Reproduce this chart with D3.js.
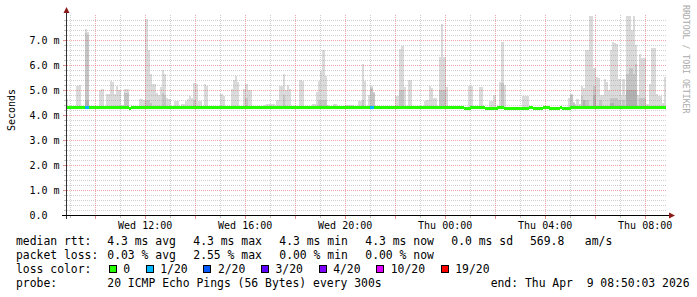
<!DOCTYPE html>
<html>
<head>
<meta charset="utf-8">
<script src="https://cdn.jsdelivr.net/npm/d3@7"></script>
<style>
  body { margin: 0; background: #fff; }
  text { font-family: "DejaVu Sans Mono", monospace; fill: #000; }
</style>
</head>
<body>
<div id="chart"></div>
<script>
// time frame: 24h of 5 minute steps, ending at the probe time
const endTime = Date.UTC(2026, 3, 9, 8, 50, 3);
const stepSec = 300;
const stepCount = 288;
const startTime = endTime - stepCount * stepSec * 1000;

const yTicks = [0, 1, 2, 3, 4, 5, 6, 7];
const yTickLabels = ['0.0', '1.0 m', '2.0 m', '3.0 m', '4.0 m', '5.0 m', '6.0 m', '7.0 m'];
const xTickLabels = ['Wed 12:00', 'Wed 16:00', 'Wed 20:00', 'Thu 00:00', 'Thu 04:00', 'Thu 08:00'];

// smoke: [step, highest ping in ms]; steps not listed stay close to the median
const smokeMax = [
  [0,4.66],[5,5.16],[6,5.2],[9,7.44],[10,7.32],[16,5.0],[17,5.04],[19,4.84],[20,4.84],
  [21,5.36],[22,5.32],[23,4.84],[24,5.16],[25,5.0],[26,4.4],[27,4.4],[28,5.04],[29,5.04],
  [31,4.38],[32,4.38],[33,4.38],[34,4.38],[35,4.66],[36,4.66],[37,4.6],[38,7.84],[39,6.6],
  [40,5.64],[41,5.24],[42,5.24],[43,4.9],[44,4.8],[45,5.12],[46,5.8],[47,5.64],[48,4.68],
  [49,4.66],[52,4.56],[53,4.56],[55,4.44],[56,4.44],[57,4.56],[58,4.66],[59,4.76],[60,4.68],
  [61,5.28],[62,5.24],[63,4.57],[64,4.57],[66,5.24],[67,5.16],[74,4.84],[75,4.76],[79,5.04],
  [80,5.4],[81,5.56],[82,5.32],[85,5.04],[86,5.24],[87,5.0],[88,5.0],[95,4.4],[96,4.44],
  [97,4.44],[98,4.44],[99,4.44],[101,4.6],[102,5.16],[103,5.16],[104,5.64],[105,5.0],
  [106,5.2],[107,5.04],[112,5.4],[113,5.36],[118,4.44],[119,4.44],[120,4.92],[121,5.36],
  [122,5.76],[123,6.6],[124,5.56],[125,4.4],[128,4.44],[129,4.44],[134,4.4],[135,4.4],
  [136,4.4],[137,4.4],[140,4.56],[141,4.56],[142,6.04],[143,5.36],[145,4.8],[146,5.16],
  [147,4.92],[152,4.36],[153,4.36],[158,4.76],[159,4.76],[160,6.64],[161,6.76],[162,5.12],
  [164,5.4],[165,5.4],[172,4.56],[173,4.6],[174,5.16],[175,5.08],[176,4.68],[177,4.68],
  [179,6.32],[180,7.64],[181,6.32],[182,5.12],[193,5.16],[194,5.16],[198,5.12],[199,5.12],
  [203,4.56],[204,4.56],[205,4.8],[208,5.32],[209,6.92],[210,5.2],[219,4.76],[220,4.76],
  [221,4.76],[241,4.68],[242,4.84],[243,4.52],[244,4.44],[245,4.64],[246,4.44],[247,5.16],
  [248,5.08],[249,6.6],[250,6.6],[251,7.98],[252,7.98],[253,5.88],[254,5.52],[255,5.48],
  [256,4.8],[257,4.8],[258,5.44],[259,5.32],[260,5.0],[261,6.6],[262,6.92],[263,6.88],
  [264,6.84],[265,5.44],[266,4.8],[267,5.44],[268,4.8],[269,7.98],[270,7.96],[271,7.4],
  [272,7.98],[273,6.8],[274,4.8],[275,6.44],[276,6.28],[277,6.28],[278,4.44],[279,4.44],
  [280,5.24],[281,6.68],[282,6.68],[283,4.84],[284,4.76],[285,4.76],[286,4.5],[287,5.52]
];

// inner (darker) part of the smoke: [step, ms]
const smokeCore = [
  [9,7.3],[10,7.2],[28,4.9],[29,4.9],[38,4.6],[39,4.6],[40,4.5],[46,4.9],[47,4.8],[61,4.6],
  [86,4.7],[104,4.8],[121,4.6],[122,4.6],[123,4.6],[124,4.6],[142,4.6],[146,5.1],[147,4.9],
  [160,5.0],[161,5.0],[179,5.0],[180,5.0],[181,5.0],[209,5.3],[242,4.8],[243,4.5],[247,4.76],
  [249,4.6],[250,4.6],[253,5.16],[256,4.6],[261,4.68],[262,4.7],[263,4.7],[264,4.68],
  [265,4.6],[267,4.6],[269,5.64],[270,5.9],[271,5.9],[272,5.64],[273,6.04],[275,4.68],
  [276,4.68],[277,4.68]
];

// darkest part close to the median: [step, ms]
const smokeDeep = [
  [9,4.6],[10,4.6],[248,4.6],[253,4.8],[261,4.5],[262,4.5],[269,5.0],[270,5.0],[271,5.0],
  [272,5.0],[273,5.0]
];

// median rtt in ms where it differs from 4.3
const medianShift = [
  [25,4.33],[26,4.33],[30,4.27],[191,4.27],[192,4.27],[193,4.27],
  [201,4.27],[202,4.27],[203,4.27],[204,4.27],[205,4.27],[206,4.27],
  [210,4.27],[211,4.27],[212,4.27],[213,4.27],[214,4.27],[215,4.27],[216,4.27],[217,4.27],
  [218,4.27],[219,4.27],[220,4.27],[221,4.27],[224,4.27],[225,4.27],[226,4.27],[227,4.27],
  [228,4.27],[232,4.27],[233,4.27],[234,4.27],[235,4.27],[236,4.27],[238,4.27],[239,4.27],
  [240,4.27],[241,4.27],[253,4.33],[254,4.33],[257,4.33],[258,4.33],[286,4.33],[287,4.33]
];

// lost pings out of 20: [step, lost]
const lossSteps = [[9,1],[10,1],[146,1],[147,1]];

const lossLabels = ['0', '1/20', '2/20', '3/20', '4/20', '10/20', '19/20'];
const lossLevels = [0, 1, 2, 3, 4, 10, 19];
const lossColors = ['#26ff00', '#00b8ff', '#0059ff', '#5e00ff', '#7e00ff', '#dd00ff', '#ff0000'];

const rttStats = ['4.3 ms avg', '4.3 ms max', '4.3 ms min', '4.3 ms now', '0.0 ms sd', '569.8   am/s'];
const lossStats = ['0.03 % avg', '2.55 % max', '0.00 % min', '0.00 % now'];
const probeText = '20 ICMP Echo Pings (56 Bytes) every 300s';
const endText = 'end: Thu Apr  9 08:50:03 2026';

// ---- build step records
const maxMap = new Map(smokeMax), coreMap = new Map(smokeCore), deepMap = new Map(smokeDeep);
const medMap = new Map(medianShift), lossMap = new Map(lossSteps);
const steps = d3.range(stepCount).map(i => ({
  t0: new Date(startTime + i * stepSec * 1000),
  t1: new Date(startTime + (i + 1) * stepSec * 1000),
  min: 4.24,
  max: maxMap.get(i) ?? 4.34,
  core: coreMap.get(i) ?? 4.31,
  deep: deepMap.get(i) ?? 4.28,
  median: medMap.get(i) ?? 4.3,
  loss: lossMap.get(i) ?? 0
}));

function lossColor(n) {
  let c = lossColors[0];
  lossLevels.forEach((lv, k) => { if (n >= lv) c = lossColors[k]; });
  return c;
}

const W = 697, H = 297;
const svg = d3.select('#chart').append('svg').attr('width', W).attr('height', H);

const x = d3.scaleUtc().domain([new Date(startTime), new Date(endTime)]).range([66, 666]);
const y = d3.scaleLinear().domain([0, 8]).range([215, 15]);

// ---- smoke
const smoke = svg.append('g').attr('shape-rendering', 'crispEdges');
[['max', '#dadada'], ['core', '#c4c4c4'], ['deep', '#b0b0b0']].forEach(([key, col]) => {
  smoke.selectAll('rect.' + key)
    .data(steps.filter(d => d[key] > d.min))
    .enter().append('rect')
    .attr('class', key)
    .attr('x', d => x(d.t0))
    .attr('width', d => x(d.t1) - x(d.t0) + 0.4)
    .attr('y', d => y(d[key]))
    .attr('height', d => y(d.min) - y(d[key]))
    .attr('fill', col);
});

// ---- grid
const grid = svg.append('g').attr('stroke-width', 1).attr('stroke-dasharray', '1,1');
const minorY = d3.range(1, 40).filter(k => k % 5 !== 0).map(k => k / 5);
grid.selectAll('line.hmin').data(minorY).enter().append('line')
  .attr('x1', 67).attr('x2', 666)
  .attr('y1', d => Math.round(y(d)) + 0.5).attr('y2', d => Math.round(y(d)) + 0.5)
  .attr('stroke', 'rgba(150,150,150,0.45)');
grid.selectAll('line.hmaj').data(yTicks.slice(1)).enter().append('line')
  .attr('x1', 67).attr('x2', 666)
  .attr('y1', d => Math.round(y(d)) + 0.5).attr('y2', d => Math.round(y(d)) + 0.5)
  .attr('stroke', 'rgba(220,60,60,0.45)');

const hours = d3.utcHour.range(new Date(startTime), new Date(endTime));
grid.selectAll('line.v').data(hours).enter().append('line')
  .attr('x1', d => Math.round(x(d)) + 0.5).attr('x2', d => Math.round(x(d)) + 0.5)
  .attr('y1', 15).attr('y2', 215)
  .attr('stroke', d => d.getUTCHours() % 2 === 0 ? 'rgba(220,60,60,0.45)' : 'rgba(150,150,150,0.45)');

// ticks on the axes
const ticks = svg.append('g').attr('shape-rendering', 'crispEdges');
ticks.selectAll('line.xt').data(hours).enter().append('line')
  .attr('x1', d => Math.round(x(d)) + 0.5).attr('x2', d => Math.round(x(d)) + 0.5)
  .attr('y1', 215).attr('y2', d => d.getUTCHours() % 2 === 0 ? 219 : 218)
  .attr('stroke', d => d.getUTCHours() % 2 === 0 ? 'rgba(220,60,60,0.6)' : 'rgba(150,150,150,0.6)');
ticks.selectAll('line.yt').data(minorY.concat(yTicks.slice(1))).enter().append('line')
  .attr('y1', d => Math.round(y(d)) + 0.5).attr('y2', d => Math.round(y(d)) + 0.5)
  .attr('x1', d => Number.isInteger(d) ? 63 : 64).attr('x2', 66)
  .attr('stroke', d => Number.isInteger(d) ? 'rgba(220,60,60,0.6)' : 'rgba(150,150,150,0.6)');

// ---- median line, coloured by loss
svg.append('g').attr('shape-rendering', 'crispEdges')
  .selectAll('rect').data(steps).enter().append('rect')
  .attr('x', d => x(d.t0))
  .attr('width', d => x(d.t1) - x(d.t0) + 0.4)
  .attr('y', d => y(d.median) - 1.2)
  .attr('height', 3)
  .attr('fill', d => lossColor(d.loss));

// ---- axes
const axes = svg.append('g');
axes.append('line').attr('x1', 66.5).attr('x2', 66.5).attr('y1', 219).attr('y2', 11)
  .attr('stroke', '#333');
axes.append('line').attr('x1', 62).attr('x2', 670).attr('y1', 215.5).attr('y2', 215.5)
  .attr('stroke', '#000');
axes.append('path').attr('d', 'M63.5,13L69.5,13L66.5,7Z').attr('fill', '#8b1a1a');
axes.append('path').attr('d', 'M669,212.5L669,218.5L675,215.5Z').attr('fill', '#8b1a1a');

// y tick labels
svg.append('g').selectAll('text').data(yTicks).enter().append('text')
  .attr('x', 29.5).attr('y', d => y(d))
  .attr('dominant-baseline', 'central')
  .attr('font-size', '10px')
  .text((d, i) => yTickLabels[i]);

// x tick labels
const labelTimes = d3.utcHour.every(4).range(new Date(startTime), new Date(endTime));
svg.append('g').selectAll('text').data(labelTimes).enter().append('text')
  .attr('x', d => x(d)).attr('y', 225)
  .attr('text-anchor', 'middle').attr('dominant-baseline', 'central')
  .attr('font-size', '10px')
  .text((d, i) => xTickLabels[i]);

// unit label
svg.append('text')
  .attr('transform', 'translate(11,110) rotate(-90)')
  .attr('text-anchor', 'middle').attr('dominant-baseline', 'central')
  .attr('font-size', '10px')
  .text('Seconds');

// watermark
svg.append('text')
  .attr('transform', 'translate(686,5) rotate(90)')
  .attr('dominant-baseline', 'central')
  .attr('font-size', '8.2px')
  .style('fill', '#aaaaaa')
  .text('RRDTOOL / TOBI OETIKER');

// ---- legend
const legend = svg.append('g').attr('font-size', '11.4px');
const rowY = [241.3, 255.3, 269.2, 283.2];
const colX = [107.3, 193.3, 279.3, 365.3, 451.3, 530];

function legendText(tx, ty, s, anchor) {
  legend.append('text').attr('x', tx).attr('y', ty)
    .attr('dominant-baseline', 'central')
    .attr('text-anchor', anchor || 'start')
    .style('white-space', 'pre')
    .text(s);
}

legendText(16, rowY[0], 'median rtt:');
rttStats.forEach((s, i) => legendText(colX[i], rowY[0], s));
legendText(16, rowY[1], 'packet loss:');
lossStats.forEach((s, i) => legendText(colX[i], rowY[1], s));
legendText(16, rowY[2], 'loss color:');

const charW = 6.88;
let bx = 108.7;
lossLabels.forEach((s, i) => {
  legend.append('rect')
    .attr('x', Math.round(bx) + 0.5).attr('y', 265.5)
    .attr('width', 7).attr('height', 7)
    .attr('fill', lossColors[i]).attr('stroke', '#000');
  legendText(bx + 14.6, rowY[2], s);
  bx = bx + 14.6 + s.length * charW + 15.5;
});

legendText(16, rowY[3], 'probe:');
legendText(107.3, rowY[3], probeText);
legendText(689.5, rowY[3], endText, 'end');
</script>
</body>
</html>
